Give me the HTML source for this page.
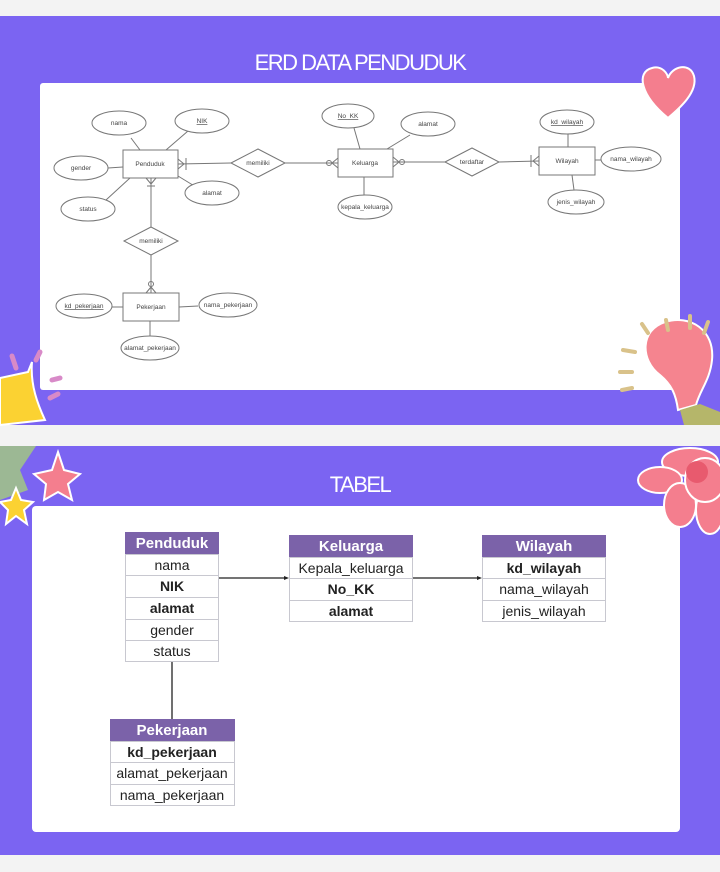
<!DOCTYPE html>
<html><head><meta charset="utf-8"><style>
html,body{margin:0;padding:0;background:#f3f3f3;}
svg{display:block;}
.t{font-family:"Liberation Sans",sans-serif;}
</style></head><body>
<svg width="720" height="872" viewBox="0 0 720 872" xmlns="http://www.w3.org/2000/svg" class="t">
<rect width="720" height="872" fill="#f3f3f3"/>
<rect x="0" y="16" width="720" height="409" fill="#7b64f2"/>
<rect x="0" y="446" width="720" height="409" fill="#7b64f2"/>
<rect x="40" y="83" width="640" height="307" fill="#fff" rx="3"/>
<rect x="32" y="506" width="648" height="326" fill="#fff" rx="4"/>
<text x="360" y="70" text-anchor="middle" fill="#fff" font-size="22" letter-spacing="-1.5">ERD DATA PENDUDUK</text>
<text x="360" y="492" text-anchor="middle" fill="#fff" font-size="22" letter-spacing="-1.5">TABEL</text>

<path d="M668 118 C640 95 636 72 652 68 C662 65 668 74 668 78 C672 66 690 62 694 76 C698 92 680 108 668 118Z" fill="#f47e8e" stroke="#fff" stroke-width="2"/>
<path d="M660 375 C640 360 640 330 665 322 C690 314 715 330 712 360 C710 380 700 390 696 405 L678 410 C676 395 672 385 660 375Z" fill="#f5848f" stroke="#fff" stroke-width="2"/>
<path d="M680 410 L700 404 L720 412 L720 425 L684 425Z" fill="#b5b66a"/>
<g stroke="#d9c28a" stroke-width="4" stroke-linecap="round">
<line x1="623" y1="350" x2="635" y2="352"/><line x1="620" y1="372" x2="632" y2="372"/><line x1="642" y1="324" x2="648" y2="333"/><line x1="666" y1="320" x2="668" y2="330"/><line x1="690" y1="316" x2="690" y2="328"/><line x1="708" y1="322" x2="704" y2="333"/><line x1="622" y1="390" x2="632" y2="388"/>
</g>
<path d="M0 378 L28 372 L32 362 C30 385 38 405 45 420 L0 425Z" fill="#fbd232" stroke="#fff" stroke-width="2"/>
<g stroke="#d88ac8" stroke-width="5" stroke-linecap="round">
<line x1="12" y1="356" x2="16" y2="368"/><line x1="40" y1="352" x2="36" y2="360"/><line x1="52" y1="380" x2="60" y2="378"/><line x1="50" y1="398" x2="58" y2="394"/>
</g>
<path d="M0 446 L36 446 L20 470 L28 490 L0 500Z" fill="#9cb894"/>
<path d="M58 452 L64 470 L80 474 L68 484 L72 500 L58 492 L44 500 L46 484 L34 474 L52 470Z" fill="#f47e8e" stroke="#fff" stroke-width="2"/>
<path d="M16 488 L21 500 L33 502 L24 510 L27 524 L16 516 L6 524 L8 510 L0 502 L11 500Z" fill="#fbd232" stroke="#fff" stroke-width="2"/>
<g fill="#f47e8e" stroke="#fff" stroke-width="2">
<ellipse cx="690" cy="462" rx="28" ry="14"/><ellipse cx="660" cy="480" rx="22" ry="13"/><ellipse cx="680" cy="505" rx="16" ry="22"/><ellipse cx="710" cy="510" rx="14" ry="24"/><ellipse cx="705" cy="480" rx="20" ry="22"/>
</g>
<circle cx="697" cy="472" r="11" fill="#e85a6e"/>

<g stroke="#777" stroke-width="1" fill="none">
<line x1="131" y1="138" x2="140" y2="150"/><line x1="188" y1="131" x2="166" y2="150"/>
<line x1="108" y1="168" x2="123" y2="167"/><line x1="106" y1="200" x2="130" y2="178"/>
<line x1="178" y1="176" x2="196" y2="187"/>
<line x1="178" y1="164" x2="231" y2="163"/><line x1="285" y1="163" x2="338" y2="163"/>
<line x1="151" y1="178" x2="151" y2="227"/><line x1="151" y1="255" x2="151" y2="293"/>
<line x1="111" y1="307" x2="123" y2="307"/><line x1="179" y1="307" x2="198" y2="306"/>
<line x1="150" y1="321" x2="150" y2="336"/>
<line x1="354" y1="128" x2="360" y2="149"/><line x1="410" y1="135" x2="387" y2="149"/>
<line x1="364" y1="177" x2="364" y2="195"/>
<line x1="393" y1="162" x2="445" y2="162"/><line x1="499" y1="162" x2="539" y2="161"/>
<line x1="568" y1="134" x2="568" y2="147"/><line x1="595" y1="160" x2="602" y2="160"/>
<line x1="572" y1="175" x2="574" y2="190"/>
<line x1="178" y1="159" x2="184" y2="164"/><line x1="178" y1="169" x2="184" y2="164"/><line x1="186" y1="158" x2="186" y2="170"/>
<line x1="338" y1="158" x2="332" y2="163"/><line x1="338" y1="168" x2="332" y2="163"/><circle cx="329" cy="163" r="2.5"/>
<line x1="393" y1="157" x2="399" y2="162"/><line x1="393" y1="167" x2="399" y2="162"/><circle cx="402" cy="162" r="2.5"/>
<line x1="539" y1="156" x2="533" y2="161"/><line x1="539" y1="166" x2="533" y2="161"/><line x1="531" y1="155" x2="531" y2="167"/>
<line x1="146" y1="178" x2="151" y2="184"/><line x1="156" y1="178" x2="151" y2="184"/><line x1="147" y1="186" x2="155" y2="186"/>
<line x1="146" y1="293" x2="151" y2="287"/><line x1="156" y1="293" x2="151" y2="287"/><circle cx="151" cy="284" r="2.5"/>
</g>
<g stroke="#777" stroke-width="1" fill="#fff">
<rect x="123" y="150" width="55" height="28"/><rect x="338" y="149" width="55" height="28"/>
<rect x="539" y="147" width="56" height="28"/><rect x="123" y="293" width="56" height="28"/>
<polygon points="231,163 258,149 285,163 258,177"/><polygon points="445,162 472,148 499,162 472,176"/>
<polygon points="124,241 151,227 178,241 151,255"/>
<ellipse cx="119" cy="123" rx="27" ry="12"/><ellipse cx="202" cy="121" rx="27" ry="12"/>
<ellipse cx="81" cy="168" rx="27" ry="12"/><ellipse cx="88" cy="209" rx="27" ry="12"/>
<ellipse cx="212" cy="193" rx="27" ry="12"/>
<ellipse cx="348" cy="116" rx="26" ry="12"/><ellipse cx="428" cy="124" rx="27" ry="12"/>
<ellipse cx="365" cy="207" rx="27" ry="12"/>
<ellipse cx="567" cy="122" rx="27" ry="12"/><ellipse cx="631" cy="159" rx="30" ry="12"/><ellipse cx="576" cy="202" rx="28" ry="12"/>
<ellipse cx="84" cy="306" rx="28" ry="12"/><ellipse cx="228" cy="305" rx="29" ry="12"/><ellipse cx="150" cy="348" rx="29" ry="12"/>
</g>
<g font-size="6.5" fill="#444" text-anchor="middle">
<text x="119" y="125">nama</text><text x="202" y="123" text-decoration="underline">NIK</text>
<text x="81" y="170">gender</text><text x="88" y="211">status</text><text x="212" y="195">alamat</text>
<text x="150" y="166">Penduduk</text><text x="258" y="165">memiliki</text><text x="151" y="243">memiliki</text>
<text x="365" y="165">Keluarga</text><text x="472" y="164">terdaftar</text><text x="567" y="163">Wilayah</text>
<text x="348" y="118" text-decoration="underline">No_KK</text><text x="428" y="126">alamat</text><text x="365" y="209">kepala_keluarga</text>
<text x="567" y="124" text-decoration="underline">kd_wilayah</text><text x="631" y="161">nama_wilayah</text><text x="576" y="204">jenis_wilayah</text>
<text x="151" y="309">Pekerjaan</text><text x="84" y="308" text-decoration="underline">kd_pekerjaan</text>
<text x="228" y="307">nama_pekerjaan</text><text x="150" y="350">alamat_pekerjaan</text>
</g>

<g stroke="#222" stroke-width="1.3">
<line x1="219" y1="578" x2="286" y2="578"/><line x1="413" y1="578" x2="479" y2="578"/>
<line x1="172" y1="662" x2="172" y2="719"/>
</g>
<polygon points="289,578 284,576 284,580" fill="#222"/>
<polygon points="482,578 477,576 477,580" fill="#222"/>
<g fill="#7b62a9">
<rect x="125" y="532" width="94" height="22"/><rect x="289" y="535" width="124" height="22"/>
<rect x="482" y="535" width="124" height="22"/><rect x="110" y="719" width="125" height="22"/>
</g>
<g fill="none" stroke="#c8c8d0" stroke-width="1">
<rect x="125.5" y="554.5" width="93" height="107"/><line x1="125" y1="575.5" x2="219" y2="575.5"/><line x1="125" y1="597.5" x2="219" y2="597.5"/><line x1="125" y1="619.5" x2="219" y2="619.5"/><line x1="125" y1="640.5" x2="219" y2="640.5"/>
<rect x="289.5" y="557.5" width="123" height="64"/><line x1="289" y1="578.5" x2="413" y2="578.5"/><line x1="289" y1="600.5" x2="413" y2="600.5"/>
<rect x="482.5" y="557.5" width="123" height="64"/><line x1="482" y1="578.5" x2="606" y2="578.5"/><line x1="482" y1="600.5" x2="606" y2="600.5"/>
<rect x="110.5" y="741.5" width="124" height="64"/><line x1="110" y1="762.5" x2="235" y2="762.5"/><line x1="110" y1="784.5" x2="235" y2="784.5"/>
</g>
<g font-size="15" text-anchor="middle" fill="#fff" font-weight="bold">
<text x="172" y="548">Penduduk</text><text x="351" y="551">Keluarga</text><text x="544" y="551">Wilayah</text><text x="172" y="735">Pekerjaan</text>
</g>
<g font-size="14" text-anchor="middle" fill="#222">
<text x="172" y="570">nama</text><text x="172" y="591" font-weight="bold">NIK</text><text x="172" y="613" font-weight="bold">alamat</text><text x="172" y="635">gender</text><text x="172" y="656">status</text>
<text x="351" y="573">Kepala_keluarga</text><text x="351" y="594" font-weight="bold">No_KK</text><text x="351" y="616" font-weight="bold">alamat</text>
<text x="544" y="573" font-weight="bold">kd_wilayah</text><text x="544" y="594">nama_wilayah</text><text x="544" y="616">jenis_wilayah</text>
<text x="172" y="757" font-weight="bold">kd_pekerjaan</text><text x="172" y="778">alamat_pekerjaan</text><text x="172" y="800">nama_pekerjaan</text>
</g>
</svg>
</body></html>
